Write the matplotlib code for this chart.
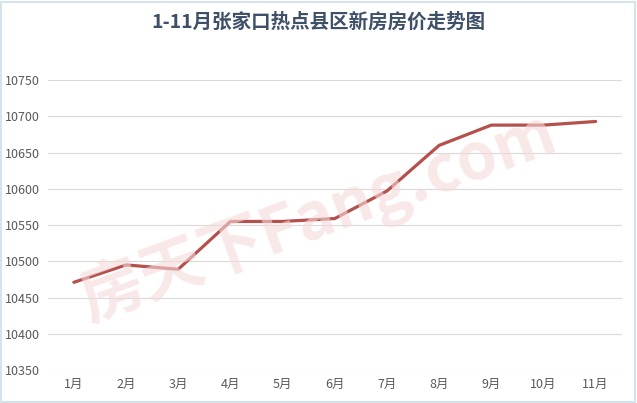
import matplotlib
matplotlib.use("Agg")
import matplotlib.pyplot as plt
from matplotlib.patches import Rectangle

plt.rcParams['font.family'] = ['Noto Sans CJK SC', 'DejaVu Sans']

months = ['1月', '2月', '3月', '4月', '5月', '6月', '7月', '8月', '9月', '10月', '11月']
prices = [10471, 10495, 10489, 10555, 10555, 10559, 10597, 10660, 10688, 10688, 10693]
yticks = [10350, 10400, 10450, 10500, 10550, 10600, 10650, 10700, 10750]
title = '1-11月张家口热点县区新房房价走势图'

fig = plt.figure(figsize=(6.37, 4.03), dpi=100)
fig.patch.set_facecolor('white')
fig.patches.append(Rectangle((0.002, 0.003), 0.995, 0.993, transform=fig.transFigure,
                             fill=False, edgecolor='#D5E3EC', linewidth=1.5))

# watermark
fig.text(0.50, 0.46, '房天下Fang.com', fontsize=46, color='#F6D9D9', alpha=0.6,
         rotation=20, ha='center', va='center', fontweight='bold', zorder=0)

ax = fig.add_axes([0.075, 0.082, 0.901, 0.719])
ax.set_facecolor('none')
x = list(range(len(months)))
ax.plot(x, prices, color='#B5504C', linewidth=2.3, solid_capstyle='round', zorder=3)
ax.set_xlim(-0.5, len(months) - 0.5)
ax.set_ylim(10350, 10750)
ax.set_yticks(yticks)
ax.set_yticklabels([str(v) for v in yticks])
ax.set_xticks(x)
ax.set_xticklabels(months)
ax.grid(axis='y', color='#D9D9D9', linewidth=0.8)
ax.set_axisbelow(True)
for s in ax.spines.values():
    s.set_visible(False)
ax.tick_params(axis='both', length=0, labelsize=9, colors='#595959')
ax.tick_params(axis='y', pad=6)
ax.tick_params(axis='x', pad=6)

fig.text(0.5, 0.945, title, ha='center', va='center', fontsize=14,
         fontweight='bold', color='#3E5068')

fig.savefig('out.png', dpi=100)
